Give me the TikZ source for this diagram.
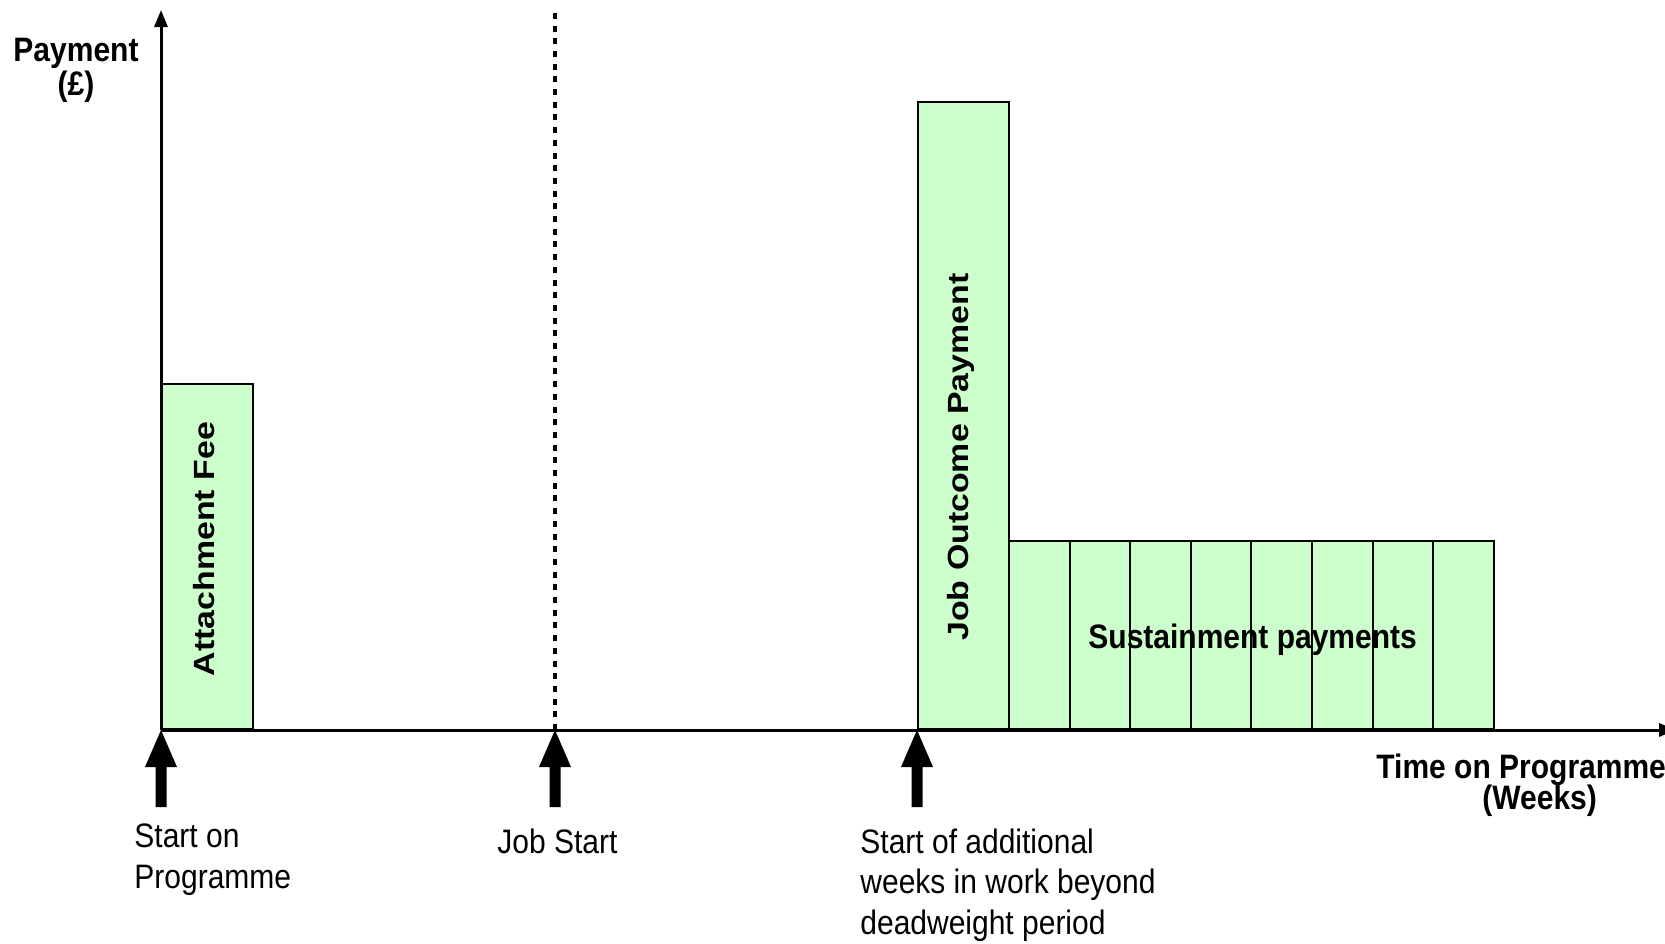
\documentclass[tikz,border=0pt]{standalone}
\usepackage{fontspec}
\setmainfont{Liberation Sans}
\usetikzlibrary{arrows.meta}
\definecolor{paygreen}{HTML}{CCFFCC}
\begin{document}
\begin{tikzpicture}[x=0.5pt,y=-0.5pt,
        bar/.style={draw,line width=1pt,fill=paygreen,inner sep=0pt,anchor=south west},
        lbl/.style={inner sep=0pt,yscale=1.13,font=\fontsize{15}{18.1}\selectfont},
        blbl/.style={inner sep=0pt,yscale=1.13,font=\bfseries\fontsize{15}{16}\selectfont},
        vlbl/.style={inner sep=0pt,rotate=90,xscale=1.16,font=\bfseries\fontsize{14.6}{16}\selectfont},
        axis/.style={line width=1.5pt,-{Triangle[width=6.5pt,length=8.5pt]}}]
    \useasboundingbox (0,0) rectangle (1665,943);
    \coordinate (O) at (161,730);
    \coordinate (jobstart) at (555,730);
    \coordinate (addstart) at (917,730);
    % payment bars
    \node[bar,minimum width=45.5pt,minimum height=172.5pt] (attach) at (O) {};
    \node[bar,minimum width=45.5pt,minimum height=313.5pt] (outcome) at (addstart) {};
    \foreach \i in {0,...,7}
        \node[bar,minimum width=30.3pt,minimum height=94pt] (sust\i) at ({1008+60.6*\i},730) {};
    \node[vlbl] (attlbl) at (204,549) {Attachment Fee};
    \node[vlbl] (outlbl) at (961,457) {Job Outcome Payment};
    \node[blbl,anchor=base west] (sustlbl) at (1088,648) {Sustainment payments};
    % axes
    \draw[axis] (O) -- (161,10) coordinate (ytop);
    \draw[axis] (O) -- (1676,730) coordinate (xend);
    \draw[line width=2pt,dash pattern=on 3pt off 3.35pt] (jobstart) -- (555,9);
    \node[blbl,anchor=north,align=center,font=\bfseries\fontsize{15}{12.5}\selectfont] (paylbl) at (76,38) {Payment\\(£)};
    \node[blbl,anchor=base west] (timelbl) at (1376,778) {Time on Programme};
    \node[blbl,anchor=base west] (weekslbl) at (1482,809) {(Weeks)};
    % markers under the axis
    \foreach \p in {O,jobstart,addstart}
        \fill (\p) -- ++(16,37) -- ++(-10.5,0) -- ++(0,40) -- ++(-11,0) -- ++(0,-40) -- ++(-10.5,0) -- cycle;
    \node[lbl,anchor=north west,align=left] (startlbl) at (134,823) {Start on\\Programme};
    \node[lbl,anchor=base west] (joblbl) at (497,853) {Job Start};
    \node[lbl,anchor=north west,align=left] (addlbl) at (860,828) {Start of additional\\weeks in work beyond\\deadweight period};
\end{tikzpicture}
\end{document}
